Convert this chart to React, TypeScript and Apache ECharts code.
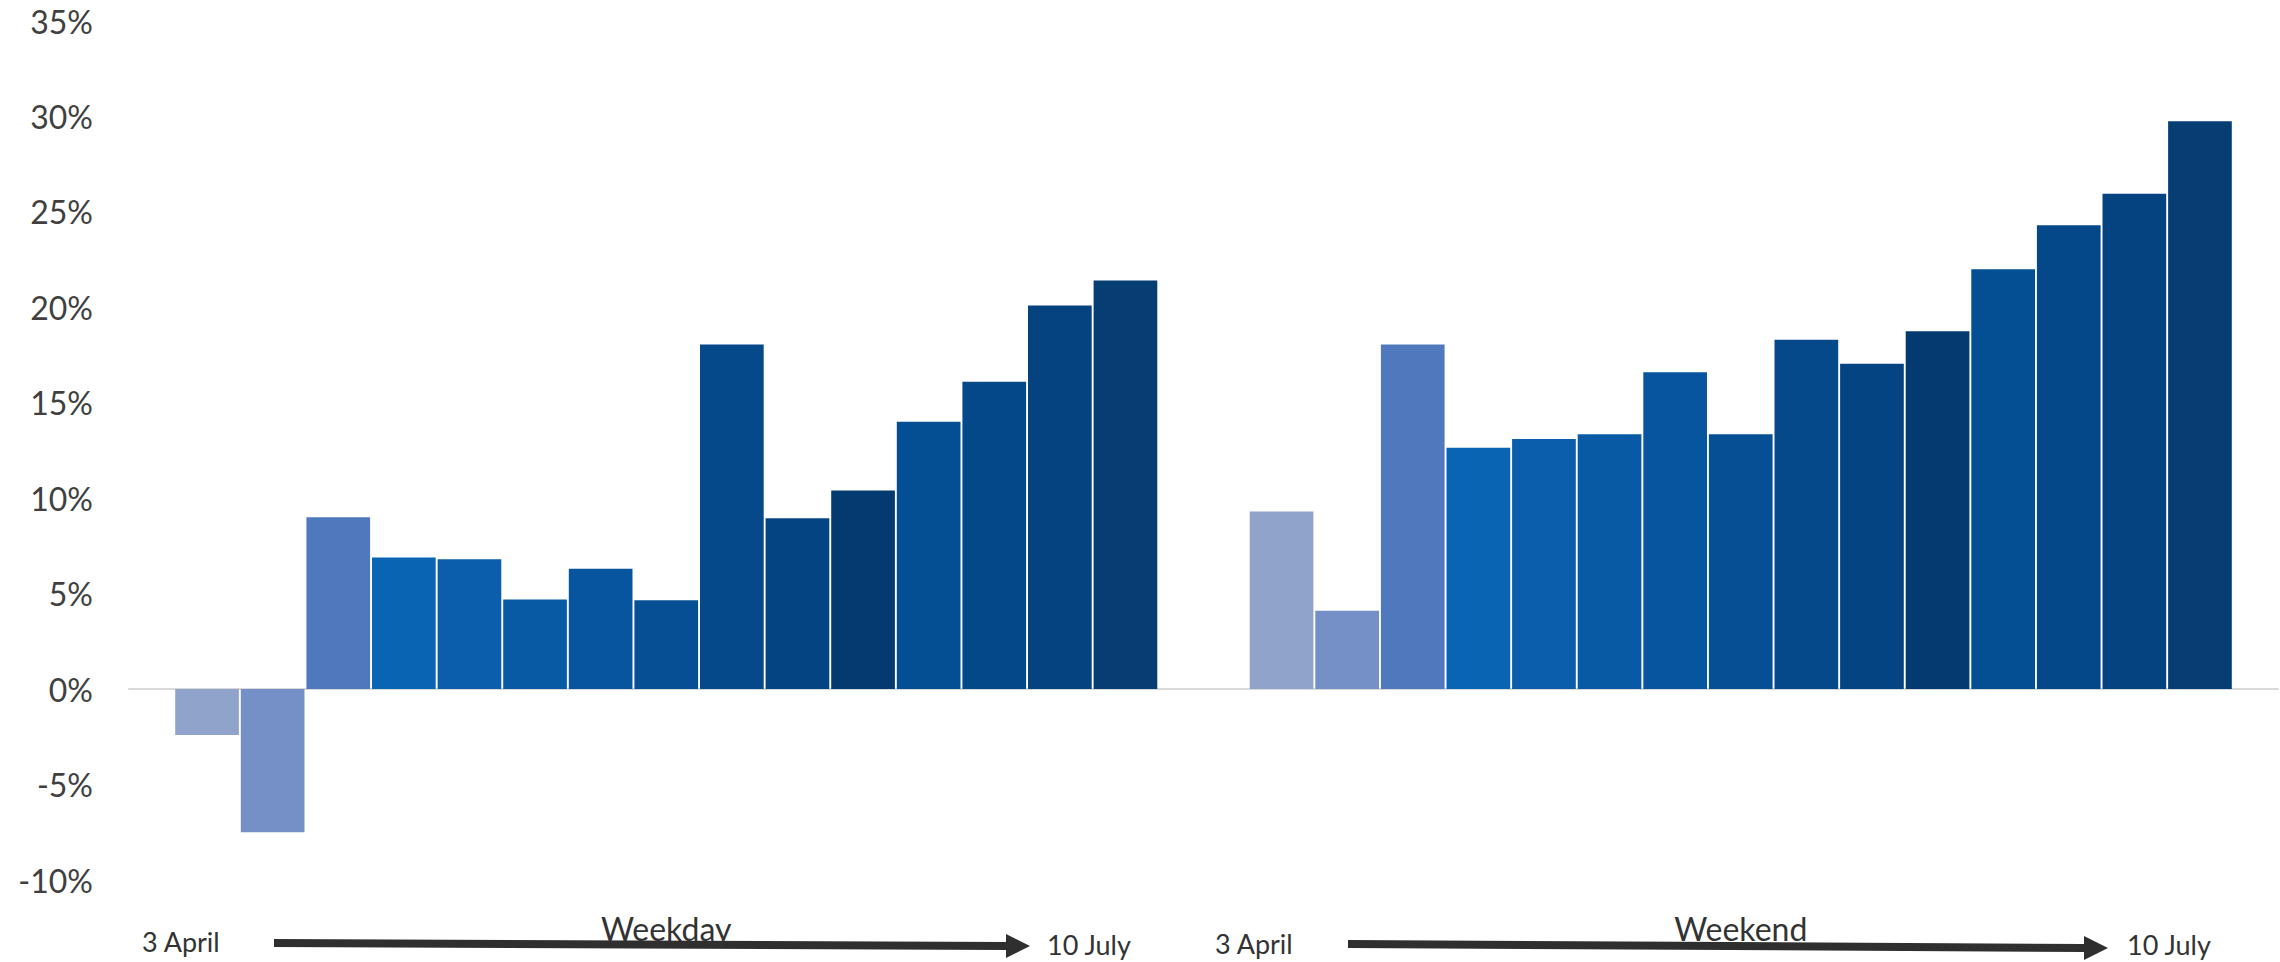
import React, { useEffect, useRef } from "react";
import * as echarts from "echarts";

// Groups on the category axis
const groups = ["Weekday", "Weekend"];

// Weekly change (%) from 3 April to 10 July, one value per week
const weekdayValues = [-2.4, -7.5, 9.0, 6.9, 6.8, 4.7, 6.3, 4.65, 18.05, 8.95, 10.4, 14.0, 16.1, 20.1, 21.4];
const weekendValues = [9.3, 4.1, 18.05, 12.65, 13.1, 13.35, 16.6, 13.35, 18.3, 17.05, 18.75, 22.0, 24.3, 25.95, 29.75];

// One colour per week, light to dark
const weekColors = [
  "#8FA3CB", "#7590C6", "#5079BD", "#0964B4", "#0A5EAC",
  "#085AA5", "#07559F", "#064F94", "#05498A", "#044483",
  "#033B71", "#044F93", "#04488A", "#044280", "#063D72",
];

const yTicks = { min: -10, max: 35, interval: 5 };

const font = "Lato, 'Open Sans', sans-serif";
const textColor = "#404040";

export default function App() {
  const ref = useRef<HTMLDivElement>(null);

  useEffect(() => {
    if (!ref.current) return;
    const chart = echarts.init(ref.current, undefined, { renderer: "svg" });

    const series = weekColors.map((color, i) => ({
      type: "bar",
      name: `Week ${i + 1}`,
      data: [weekdayValues[i], weekendValues[i]],
      itemStyle: { color },
      barGap: "3%",
      barCategoryGap: "8.6%",
    }));

    // Timeline arrow running under each group
    const arrow = (x1: number, y1: number, x2: number, y2: number) => {
      const head = 24;
      const half = 4;
      const hh = 12;
      return {
        type: "polygon",
        shape: {
          points: [
            [x1, y1 - half],
            [x2 - head, y2 - half],
            [x2 - head, y2 - hh],
            [x2, y2],
            [x2 - head, y2 + hh],
            [x2 - head, y2 + half],
            [x1, y1 + half],
          ],
        },
        style: { fill: "#2F2F2F" },
      };
    };

    const label = (text: string, x: number, y: number, size: number) => ({
      type: "text",
      x,
      y,
      style: {
        text,
        fill: "#333333",
        font: `${size}px ${font}`,
        align: "left",
        verticalAlign: "middle",
      },
    });

    chart.setOption({
      animation: false,
      backgroundColor: "#ffffff",
      grid: { left: 129, right: 2, top: 21, bottom: 82 },
      xAxis: [
        {
          type: "category",
          data: groups,
          axisLine: { onZero: true, lineStyle: { color: "#D9D9D9", width: 2 } },
          axisTick: { show: false },
          axisLabel: { show: false },
        },
        {
          type: "category",
          data: groups,
          position: "bottom",
          axisLine: { show: false, onZero: false },
          axisTick: { show: false },
          axisLabel: {
            show: true,
            margin: 32,
            fontFamily: font,
            fontSize: 32,
            color: "#333333",
          },
        },
      ],
      yAxis: {
        type: "value",
        min: yTicks.min,
        max: yTicks.max,
        interval: yTicks.interval,
        axisLine: { show: false },
        axisTick: { show: false },
        splitLine: { show: false },
        axisLabel: {
          formatter: "{value}%",
          margin: 36,
          fontFamily: font,
          fontSize: 32,
          color: textColor,
        },
      },
      series,
      graphic: [
        label("3 April", 142, 941, 27),
        arrow(274, 943, 1030, 946),
        label("10 July", 1047, 944, 27),
        label("3 April", 1215, 943, 27),
        arrow(1348, 944, 2108, 948),
        label("10 July", 2127, 944, 27),
      ],
    });

    return () => chart.dispose();
  }, []);

  return (
    <div
      ref={ref}
      style={{ position: "absolute", left: 0, top: 0, width: 2280, height: 962 }}
    />
  );
}
